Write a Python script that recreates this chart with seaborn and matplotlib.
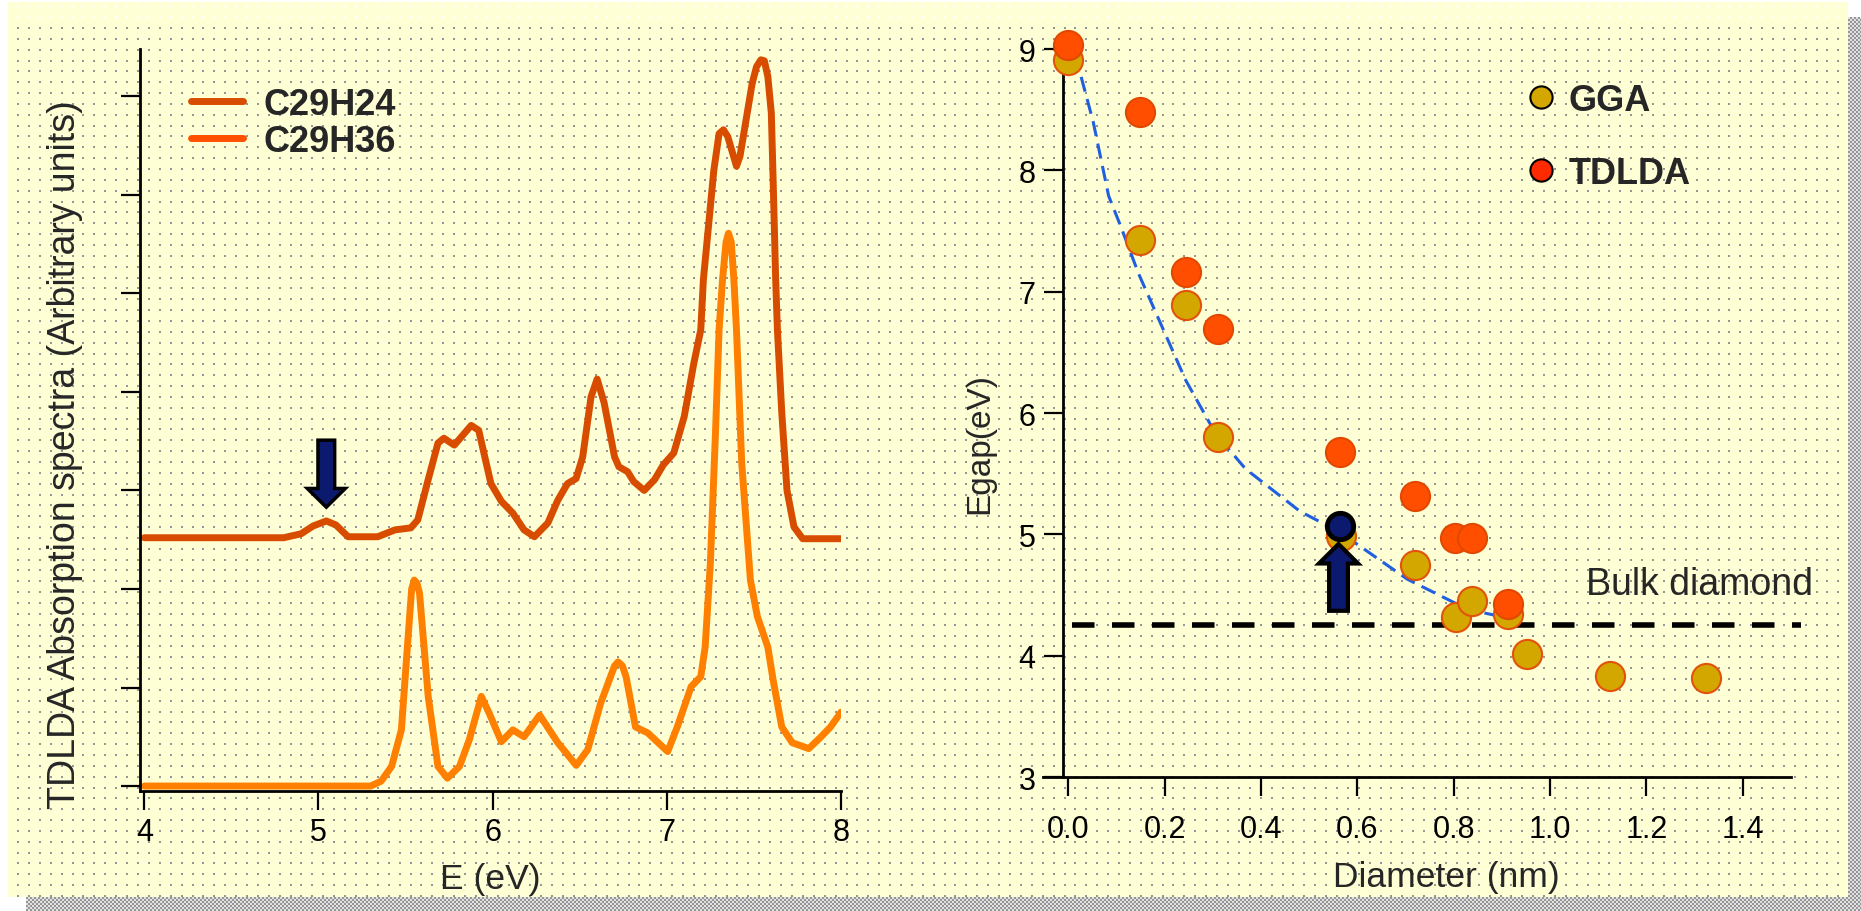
import numpy as np
import pandas as pd
import matplotlib
matplotlib.use("Agg")
import matplotlib.pyplot as plt
import seaborn as sns
from matplotlib.lines import Line2D
from matplotlib import font_manager

# ---------------- data ----------------
energy_c29h24 = [4.0, 4.80, 4.90, 4.97, 5.045, 5.10, 5.17, 5.34, 5.44, 5.53, 5.57, 5.63,
                 5.686, 5.72, 5.78, 5.877, 5.92, 5.99, 6.05, 6.116, 6.18, 6.24, 6.317,
                 6.374, 6.43, 6.479, 6.517, 6.565, 6.60, 6.64, 6.70, 6.725, 6.775, 6.81,
                 6.87, 6.93, 6.98, 7.04, 7.10, 7.155, 7.195, 7.21, 7.27, 7.30, 7.325,
                 7.35, 7.40, 7.42, 7.49, 7.515, 7.54, 7.56, 7.58, 7.60, 7.61, 7.625,
                 7.635, 7.66, 7.69, 7.73, 7.78, 8.0]
absorb_c29h24 = [2.52, 2.52, 2.56, 2.64, 2.69, 2.65, 2.53, 2.53, 2.60, 2.62, 2.70, 3.11,
                 3.48, 3.53, 3.46, 3.66, 3.61, 3.07, 2.89, 2.77, 2.60, 2.53, 2.67,
                 2.90, 3.07, 3.12, 3.34, 3.95, 4.13, 3.89, 3.34, 3.24, 3.19, 3.09,
                 3.00, 3.11, 3.26, 3.38, 3.75, 4.29, 4.63, 5.14, 6.25, 6.62, 6.66,
                 6.59, 6.29, 6.39, 7.13, 7.30, 7.37, 7.36, 7.20, 6.83, 6.18, 5.14,
                 4.63, 3.79, 3.00, 2.63, 2.51, 2.51]

energy_c29h36 = [4.0, 5.30, 5.36, 5.42, 5.476, 5.51, 5.535, 5.55, 5.565, 5.58, 5.63,
                 5.686, 5.74, 5.81, 5.866, 5.935, 5.98, 6.05, 6.116, 6.18, 6.27, 6.374,
                 6.48, 6.546, 6.62, 6.70, 6.72, 6.745, 6.766, 6.82, 6.89, 7.005, 7.06,
                 7.14, 7.195, 7.22, 7.25, 7.28, 7.30, 7.32, 7.34, 7.354, 7.37, 7.385,
                 7.40, 7.43, 7.48, 7.52, 7.58, 7.61, 7.66, 7.72, 7.815, 7.88, 7.94, 8.0]
absorb_c29h36 = [0.0, 0.0, 0.05, 0.20, 0.57, 1.40, 2.00, 2.09, 2.06, 1.96, 0.91,
                 0.20, 0.08, 0.20, 0.47, 0.91, 0.74, 0.45, 0.57, 0.50, 0.72, 0.44,
                 0.21, 0.37, 0.84, 1.22, 1.26, 1.22, 1.11, 0.60, 0.54, 0.35, 0.60,
                 1.01, 1.11, 1.41, 2.26, 3.61, 4.63, 5.14, 5.52, 5.61, 5.52, 5.14,
                 4.63, 3.28, 2.09, 1.72, 1.41, 1.08, 0.60, 0.44, 0.38, 0.49, 0.60, 0.75]

diam_gga = [0.0, 0.15, 0.245, 0.31, 0.567, 0.719, 0.804, 0.839, 0.912, 0.953, 1.124, 1.324]
gap_gga = [8.91, 7.43, 6.89, 5.80, 4.99, 4.75, 4.32, 4.45, 4.34, 4.01, 3.83, 3.82]
diam_tdlda = [0.0, 0.15, 0.245, 0.31, 0.565, 0.719, 0.802, 0.839, 0.913]
gap_tdlda = [9.03, 8.48, 7.16, 6.69, 5.68, 5.32, 4.97, 4.97, 4.43]
diam_marked = [0.564]
gap_marked = [5.07]

fit_diam = [0.012, 0.025, 0.052, 0.084, 0.109, 0.146, 0.195, 0.244, 0.306, 0.368,
            0.481, 0.563, 0.704, 0.830, 0.890, 0.911]
fit_gap = [8.95, 8.80, 8.40, 7.79, 7.54, 7.15, 6.71, 6.27, 5.83, 5.54,
           5.19, 5.02, 4.63, 4.38, 4.33, 4.32]

bulk_diam = [0.008, 1.52]
bulk_gap = 4.25

# arrows: x, tail, tip
peak_arrow = (5.045, 3.51, 2.83)
dot_arrow = (0.561, 4.37, 4.92)

spec_xticks = [4, 5, 6, 7, 8]
spec_yticks = [0, 1, 2, 3, 4, 5, 6, 7]
diam_xticks = [0.0, 0.2, 0.4, 0.6, 0.8, 1.0, 1.2, 1.4]
gap_yticks = [3, 4, 5, 6, 7, 8, 9]

c24 = "#D84C00"
c36 = "#FF8000"
c_gga = "#D4A600"
c_tdlda = "#FF4E00"
navy = "#0B1A6E"

sns.set_style("ticks")
plt.rcParams["font.family"] = ["Liberation Sans", "DejaVu Sans"]

installed = {f.name for f in font_manager.fontManager.ttflist}
if "Liberation Sans Narrow" in installed:
    tick_font = {"family": "Liberation Sans Narrow", "size": 24}
else:
    tick_font = {"family": "Liberation Sans", "size": 22}

W, H = 1861, 912
fig = plt.figure(figsize=(W / 100, H / 100), dpi=100)
fig.patch.set_facecolor("white")

# ---------------- dotted yellow slide background ----------------
bg = np.full((H, W, 3), 255, dtype=np.uint8)
bg[3:898, 8:1848] = (255, 255, 214)
rows = np.round(28 + 10.85 * np.arange(-3, 90)).astype(int)
cols = np.round(28 + 10.9 * np.arange(-3, 175)).astype(int)
for r in rows:
    if r < 3 or r + 2 > 898:
        continue
    dot = (255, 255, 255) if r < 19 else (150, 150, 150)
    for c in cols:
        if c < 8 or c + 2 > 1848:
            continue
        bg[r:r + 2, c:c + 2] = dot
yy, xx = np.mgrid[0:H, 0:W]
checker = (yy // 2 + xx // 2) % 2 == 0
shadow = np.zeros((H, W), bool)
shadow[18:, 1848:] = True
shadow[898:, 26:] = True
bg[shadow & checker] = (150, 150, 150)
bg[shadow & ~checker] = (225, 225, 225)
fig.figimage(bg, xo=0, yo=0, origin="upper", zorder=-1)

ax1 = fig.add_axes([0.0752, 0.1316, 0.3767, 0.8136])
ax2 = fig.add_axes([0.5605, 0.1469, 0.4019, 0.7982])
for ax in (ax1, ax2):
    ax.set_facecolor("none")
    ax.spines[["top", "right"]].set_visible(False)
    for s in ("left", "bottom"):
        ax.spines[s].set_linewidth(2)
        ax.spines[s].set_color("black")
    ax.tick_params(direction="out", length=13.5, width=1.6, color="black",
                   labelcolor="black")

# ---------------- left: absorption spectra ----------------
sns.lineplot(x=energy_c29h24, y=absorb_c29h24, ax=ax1, color=c24, lw=5,
             sort=False, estimator=None, solid_joinstyle="round")
sns.lineplot(x=energy_c29h36, y=absorb_c29h36, ax=ax1, color=c36, lw=5,
             sort=False, estimator=None, solid_joinstyle="round")
ax1.set_xlim(3.975, 8.0)
ax1.set_ylim(-0.05, 7.48)
ax1.set_xticks(spec_xticks)
ax1.set_xticklabels([str(v) for v in spec_xticks], fontdict=tick_font)
ax1.set_yticks(spec_yticks)
ax1.set_yticklabels([])
ax1.tick_params(axis="x", pad=5)
ax1.set_xlabel("E (eV)", fontsize=25.5, labelpad=11)
ax1.set_ylabel("TDLDA Absorption spectra (Arbitrary units)", fontsize=27,
               labelpad=24, y=0.455)
ax1.arrow(peak_arrow[0], peak_arrow[1], 0, peak_arrow[2] - peak_arrow[1],
          width=0.096, head_width=0.218, head_length=0.19, length_includes_head=True,
          fc=navy, ec="black", lw=2.5, zorder=5)
handles1 = [Line2D([], [], color=c24, lw=5), Line2D([], [], color="#FF5000", lw=5)]
ax1.legend(handles1, ["C29H24", "C29H36"], loc="upper left",
           bbox_to_anchor=(191 / W, 1 - 88 / H), bbox_transform=fig.transFigure,
           frameon=False, prop={"weight": "bold", "size": 26}, handlelength=1.45,
           handletextpad=0.55, labelspacing=0.05, borderpad=0, borderaxespad=0)

# ---------------- right: gap vs diameter ----------------
ax2.plot(bulk_diam, [bulk_gap, bulk_gap], color="black", lw=4,
         dashes=(4.05, 3.15), clip_on=False, zorder=2)
sns.lineplot(x=fit_diam, y=fit_gap, ax=ax2, color="#1F5FE0", lw=2.2,
             sort=False, estimator=None, linestyle=(0, (5, 2.5)), zorder=2)
sns.scatterplot(x=diam_gga, y=gap_gga, ax=ax2, s=440, color=c_gga,
                edgecolor="#E2520A", linewidth=1.5, zorder=3, clip_on=False)
sns.scatterplot(x=diam_tdlda, y=gap_tdlda, ax=ax2, s=440, color=c_tdlda,
                edgecolor="#E04800", linewidth=1.5, zorder=4, clip_on=False)
sns.scatterplot(x=diam_marked, y=gap_marked, ax=ax2, s=360, color=navy,
                edgecolor="black", linewidth=3.5, zorder=5, clip_on=False)
ax2.arrow(dot_arrow[0], dot_arrow[1], 0, dot_arrow[2] - dot_arrow[1],
          width=0.039, head_width=0.081, head_length=0.16, length_includes_head=True,
          fc=navy, ec="black", lw=3, zorder=6)

ax2.set_xlim(-0.052, 1.50)
ax2.set_ylim(3, 9)
ax2.spines["left"].set_position(("data", -0.01))
ax2.set_xticks(diam_xticks)
ax2.set_xticklabels([f"{v:.1f}" for v in diam_xticks], fontdict=tick_font)
ax2.set_yticks(gap_yticks)
ax2.set_yticklabels([str(v) for v in gap_yticks], fontdict=tick_font)
ax2.tick_params(axis="x", pad=13)
ax2.tick_params(axis="y", pad=6.5)
ax2.set_xlabel("Diameter (nm)", fontsize=25.5, labelpad=12, x=0.539)
ax2.set_ylabel("Egap(eV)", fontsize=24, labelpad=17, y=0.46)
ax2.text(1.546, 4.51, "Bulk diamond", ha="right", va="baseline", fontsize=27,
         clip_on=False)

handles2 = [Line2D([], [], ls="none", marker="o", markersize=16, mfc=c_gga,
                   mec="black", mew=1.5),
            Line2D([], [], ls="none", marker="o", markersize=16, mfc="#FF2A00",
                   mec="black", mew=1.5)]
ax2.legend(handles2, ["GGA", "TDLDA"], loc="upper left",
           bbox_to_anchor=(1527 / W, 1 - 84 / H), bbox_transform=fig.transFigure,
           frameon=False, prop={"weight": "bold", "size": 26}, handlelength=0.8,
           handletextpad=0.35, labelspacing=1.05, borderpad=0, borderaxespad=0)

fig.savefig("out.png", dpi=100)
